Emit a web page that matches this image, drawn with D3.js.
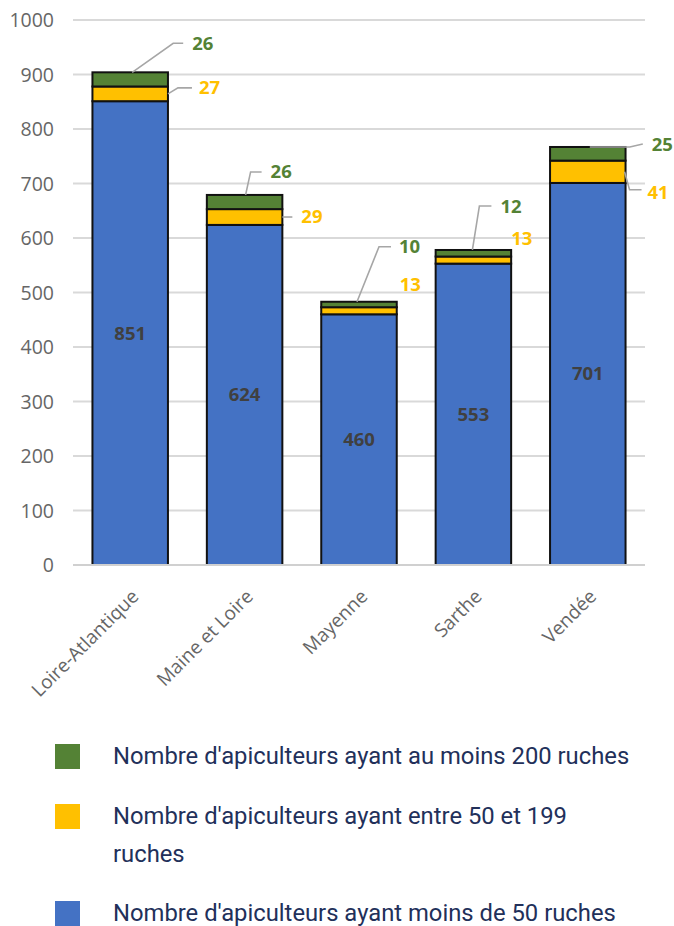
<!DOCTYPE html>
<html>
<head>
<meta charset="utf-8">
<script src="https://cdn.jsdelivr.net/npm/d3@7/dist/d3.min.js"></script>
<style>
  html, body { margin: 0; padding: 0; background: #fff; }
  svg { display: block; }
</style>
</head>
<body>
<svg id="chart" width="674" height="926"></svg>
<script>
// Departments of Pays de la Loire
const departements = ["Loire-Atlantique", "Maine et Loire", "Mayenne", "Sarthe", "Vendée"];
// Beekeepers by apiary size
const moinsDe50 = [851, 624, 460, 553, 701];
const entre50et199 = [27, 29, 13, 13, 41];
const auMoins200 = [26, 26, 10, 12, 25];
const yTicks = [0, 100, 200, 300, 400, 500, 600, 700, 800, 900, 1000];

const legendLabels = [
  ["Nombre d'apiculteurs ayant au moins 200 ruches"],
  ["Nombre d'apiculteurs ayant entre 50 et 199", "ruches"],
  ["Nombre d'apiculteurs ayant moins de 50 ruches"]
];

const colors = { blue: "#4472C4", yellow: "#FFC000", green: "#548235" };
const axisFont = "Open Sans, sans-serif";

const svg = d3.select("#chart");
const plot = { left: 73, right: 645, top: 20, bottom: 565 };

const x = d3.scaleBand().domain(departements).range([plot.left, plot.right]).paddingInner(0.34).paddingOuter(0.17);
const y = d3.scaleLinear().domain([0, 1000]).range([plot.bottom, plot.top]);

// gridlines
svg.append("g")
  .selectAll("line")
  .data(yTicks)
  .join("line")
  .attr("x1", plot.left).attr("x2", plot.right)
  .attr("y1", d => y(d)).attr("y2", d => y(d))
  .attr("stroke", "#d9d9d9").attr("stroke-width", 2);

// y axis labels
const yAxis = d3.axisLeft(y).tickValues(yTicks).tickFormat(d3.format("d")).tickSize(0).tickPadding(0);
svg.append("g")
  .attr("transform", `translate(${plot.left - 19},0)`)
  .call(yAxis)
  .call(g => g.select(".domain").remove())
  .call(g => g.selectAll("text")
    .attr("fill", "#666")
    .attr("font-family", axisFont)
    .attr("font-size", 19.5)
    .attr("dy", "0.35em"));

// stacked data
const rows = departements.map((d, i) => ({
  dep: d, blue: moinsDe50[i], yellow: entre50et199[i], green: auMoins200[i]
}));
const stack = d3.stack().keys(["blue", "yellow", "green"]);
const series = stack(rows);

const bars = svg.append("g");
series.forEach(s => {
  bars.append("g")
    .selectAll("rect")
    .data(s)
    .join("rect")
    .attr("x", d => x(d.data.dep))
    .attr("width", x.bandwidth())
    .attr("y", d => y(d[1]))
    .attr("height", d => y(d[0]) - y(d[1]))
    .attr("fill", colors[s.key])
    .attr("stroke", "#111")
    .attr("stroke-width", 2);
});

// blue value labels (centered in the segment)
svg.append("g")
  .selectAll("text")
  .data(series[0])
  .join("text")
  .attr("x", d => x(d.data.dep) + x.bandwidth() / 2)
  .attr("y", d => y((d[0] + d[1]) / 2))
  .attr("dy", "0.35em")
  .attr("text-anchor", "middle")
  .attr("font-family", axisFont)
  .attr("font-weight", "bold")
  .attr("font-size", 18.5)
  .attr("fill", "#404040")
  .text(d => d.data.blue);

// callouts for the thin segments: leader polyline (pixel offsets from the anchor) and label offset
const greenCallouts = [
  { ax: 2,  path: [[0, 0], [41, -29], [51, -29]], label: [60, -29] },
  { ax: 1,  path: [[0, 0], [5, -23], [16, -23]], label: [25, -23] },
  { ax: -2, path: [[0, 0], [22, -55], [34, -55]], label: [42, -55] },
  { ax: -1, path: [[0, 0], [7, -44], [19, -44]], label: [28, -43] },
  { ax: 2,  path: [[0, 0], [40, 0], [53, -3]], label: [62, -2] }
];
const yellowCallouts = [
  { path: [[0, 0], [10, -6], [24, -6]], label: [31, -6] },
  { path: [[0, 0], [10, 0]], label: [19, 0] },
  { path: null, label: [3, -26] },
  { path: null, label: [0, -22] },
  { path: [[-1, 0], [4, 18], [16, 18]], label: [22, 21] }
];

const callG = svg.append("g");
const leader = d3.line();

series[2].forEach((d, i) => {
  const c = greenCallouts[i];
  const ax = x(d.data.dep) + x.bandwidth() / 2 + c.ax;
  const ay = y(d[1]);
  callG.append("path")
    .attr("d", leader(c.path.map(p => [ax + p[0], ay + p[1]])))
    .attr("fill", "none").attr("stroke", "#a6a6a6").attr("stroke-width", 1.6);
  callG.append("text")
    .attr("x", ax + c.label[0])
    .attr("y", ay + c.label[1])
    .attr("dy", "0.35em")
    .attr("font-family", axisFont)
    .attr("font-weight", "bold")
    .attr("font-size", 18.5)
    .attr("fill", colors.green)
    .text(d.data.green);
});

series[1].forEach((d, i) => {
  const c = yellowCallouts[i];
  const ax = x(d.data.dep) + x.bandwidth();
  const ay = y((d[0] + d[1]) / 2);
  if (c.path) {
    callG.append("path")
      .attr("d", leader(c.path.map(p => [ax + p[0], ay + p[1]])))
      .attr("fill", "none").attr("stroke", "#a6a6a6").attr("stroke-width", 1.6);
  }
  callG.append("text")
    .attr("x", ax + c.label[0])
    .attr("y", ay + c.label[1])
    .attr("dy", "0.35em")
    .attr("font-family", axisFont)
    .attr("font-weight", "bold")
    .attr("font-size", 18.5)
    .attr("fill", colors.yellow)
    .text(d.data.yellow);
});

// baseline
svg.append("line")
  .attr("x1", plot.left).attr("x2", plot.right)
  .attr("y1", y(0)).attr("y2", y(0))
  .attr("stroke", "#d0d0d0").attr("stroke-width", 2);

// x axis labels, rotated
const xAxis = d3.axisBottom(x).tickSize(0).tickPadding(0);
svg.append("g")
  .attr("transform", `translate(0,${y(0)})`)
  .call(xAxis)
  .call(g => g.select(".domain").remove())
  .call(g => g.selectAll("text")
    .attr("fill", "#666")
    .attr("font-family", axisFont)
    .attr("font-size", 19)
    .attr("text-anchor", "end")
    .attr("dy", "0.35em")
    .attr("transform", "translate(5,28) rotate(-45)"));

// legend
const legendColors = [colors.green, colors.yellow, colors.blue];
const legendTop = [756, 816, 913];
const legend = svg.append("g");
legendLabels.forEach((lines, i) => {
  legend.append("rect")
    .attr("x", 55).attr("y", legendTop[i] - 12)
    .attr("width", 25).attr("height", 25)
    .attr("fill", legendColors[i]);
  lines.forEach((t, j) => {
    legend.append("text")
      .attr("x", 113)
      .attr("y", legendTop[i] + j * 38)
      .attr("dy", "0.35em")
      .attr("font-family", "Roboto, sans-serif")
      .attr("font-size", 23.8)
      .attr("fill", "#22305a")
      .text(t);
  });
});
</script>
</body>
</html>
